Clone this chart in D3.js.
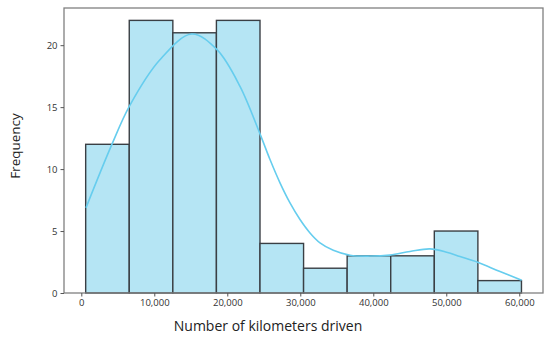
<!DOCTYPE html>
<html><head><meta charset="utf-8">
<script src="https://cdn.jsdelivr.net/npm/d3@7"></script>
<style>
html,body{margin:0;padding:0;background:#fff;}
svg{display:block;}
</style></head>
<body>
<svg id="chart" width="550" height="338"></svg>
<script>
// Histogram bins (km) and counts
const binEdges = [600, 6570, 12540, 18510, 24480, 30450, 36420, 42390, 48360, 54330, 60300];
const counts = [12, 22, 21, 22, 4, 2, 3, 3, 5, 1];
// KDE curve (km, frequency)
const kdeX = [640, 4160, 6630, 10740, 15120, 18590, 21740, 24520, 25850, 27220, 28590, 29960, 31330, 32700, 34520, 36810, 39550, 42290, 45030, 47770, 50050, 51880, 54300, 57360, 60330];
const kdeY = [6.87, 11.95, 15.12, 18.8, 20.9, 19.64, 16.68, 12.78, 10.77, 8.89, 7.27, 5.93, 4.85, 4.05, 3.45, 3.05, 2.98, 3.06, 3.35, 3.56, 3.29, 2.94, 2.48, 1.73, 1.03];
const xTicks = [0, 10000, 20000, 30000, 40000, 50000, 60000];
const yTicks = [0, 5, 10, 15, 20];
const xTitle = "Number of kilometers driven";
const yTitle = "Frequency";

const svg = d3.select("#chart");
const L = 64, R = 543, T = 8, B = 293;
const x = d3.scaleLinear().domain([-2370, 63250]).range([L, R]);
const y = d3.scaleLinear().domain([0, 23.0]).range([B, T]);

const font = "'Open Sans', 'Noto Sans', sans-serif";

// bars
const bins = counts.map((c, i) => ({x0: binEdges[i], x1: binEdges[i+1], c}));
svg.append("g").selectAll("rect").data(bins).join("rect")
  .attr("x", d => x(d.x0))
  .attr("y", d => y(d.c))
  .attr("width", d => x(d.x1) - x(d.x0))
  .attr("height", d => y(0) - y(d.c))
  .attr("fill", "#b5e5f4")
  .attr("stroke", "#3a3f44")
  .attr("stroke-width", 1.4);

// KDE
const pts = kdeX.map((v, i) => [v, kdeY[i]]);
svg.append("path")
  .attr("d", d3.line().x(d => x(d[0])).y(d => y(d[1])).curve(d3.curveCatmullRom.alpha(0.5))(pts))
  .attr("fill", "none")
  .attr("stroke", "#66cdee")
  .attr("stroke-width", 1.6);

// frame
svg.append("rect").attr("x", L).attr("y", T).attr("width", R - L).attr("height", B - T)
  .attr("fill", "none").attr("stroke", "#808080").attr("stroke-width", 1.3);

// axes
const xAxis = d3.axisBottom(x).tickValues(xTicks).tickFormat(d3.format(",")).tickSize(3.5).tickPadding(3);
const gx = svg.append("g").attr("transform", `translate(0,${B})`).call(xAxis);
const yAxis = d3.axisLeft(y).tickValues(yTicks).tickSize(3.5).tickPadding(3);
const gy = svg.append("g").attr("transform", `translate(${L},0)`).call(yAxis);
[gx, gy].forEach(g => {
  g.select(".domain").remove();
  g.selectAll(".tick line").attr("stroke", "#555").attr("stroke-width", 1);
  g.selectAll(".tick text").attr("fill", "#333").style("font-family", font).style("font-size", "9.5px");
});

// titles
svg.append("text").attr("x", 268).attr("y", 331)
  .attr("text-anchor", "middle").attr("fill", "#222")
  .style("font-family", font).style("font-size", "14px").text(xTitle);
svg.append("text").attr("transform", "translate(20,146) rotate(-90)")
  .attr("text-anchor", "middle").attr("fill", "#222")
  .style("font-family", font).style("font-size", "13.5px").text(yTitle);
</script>
</body></html>
